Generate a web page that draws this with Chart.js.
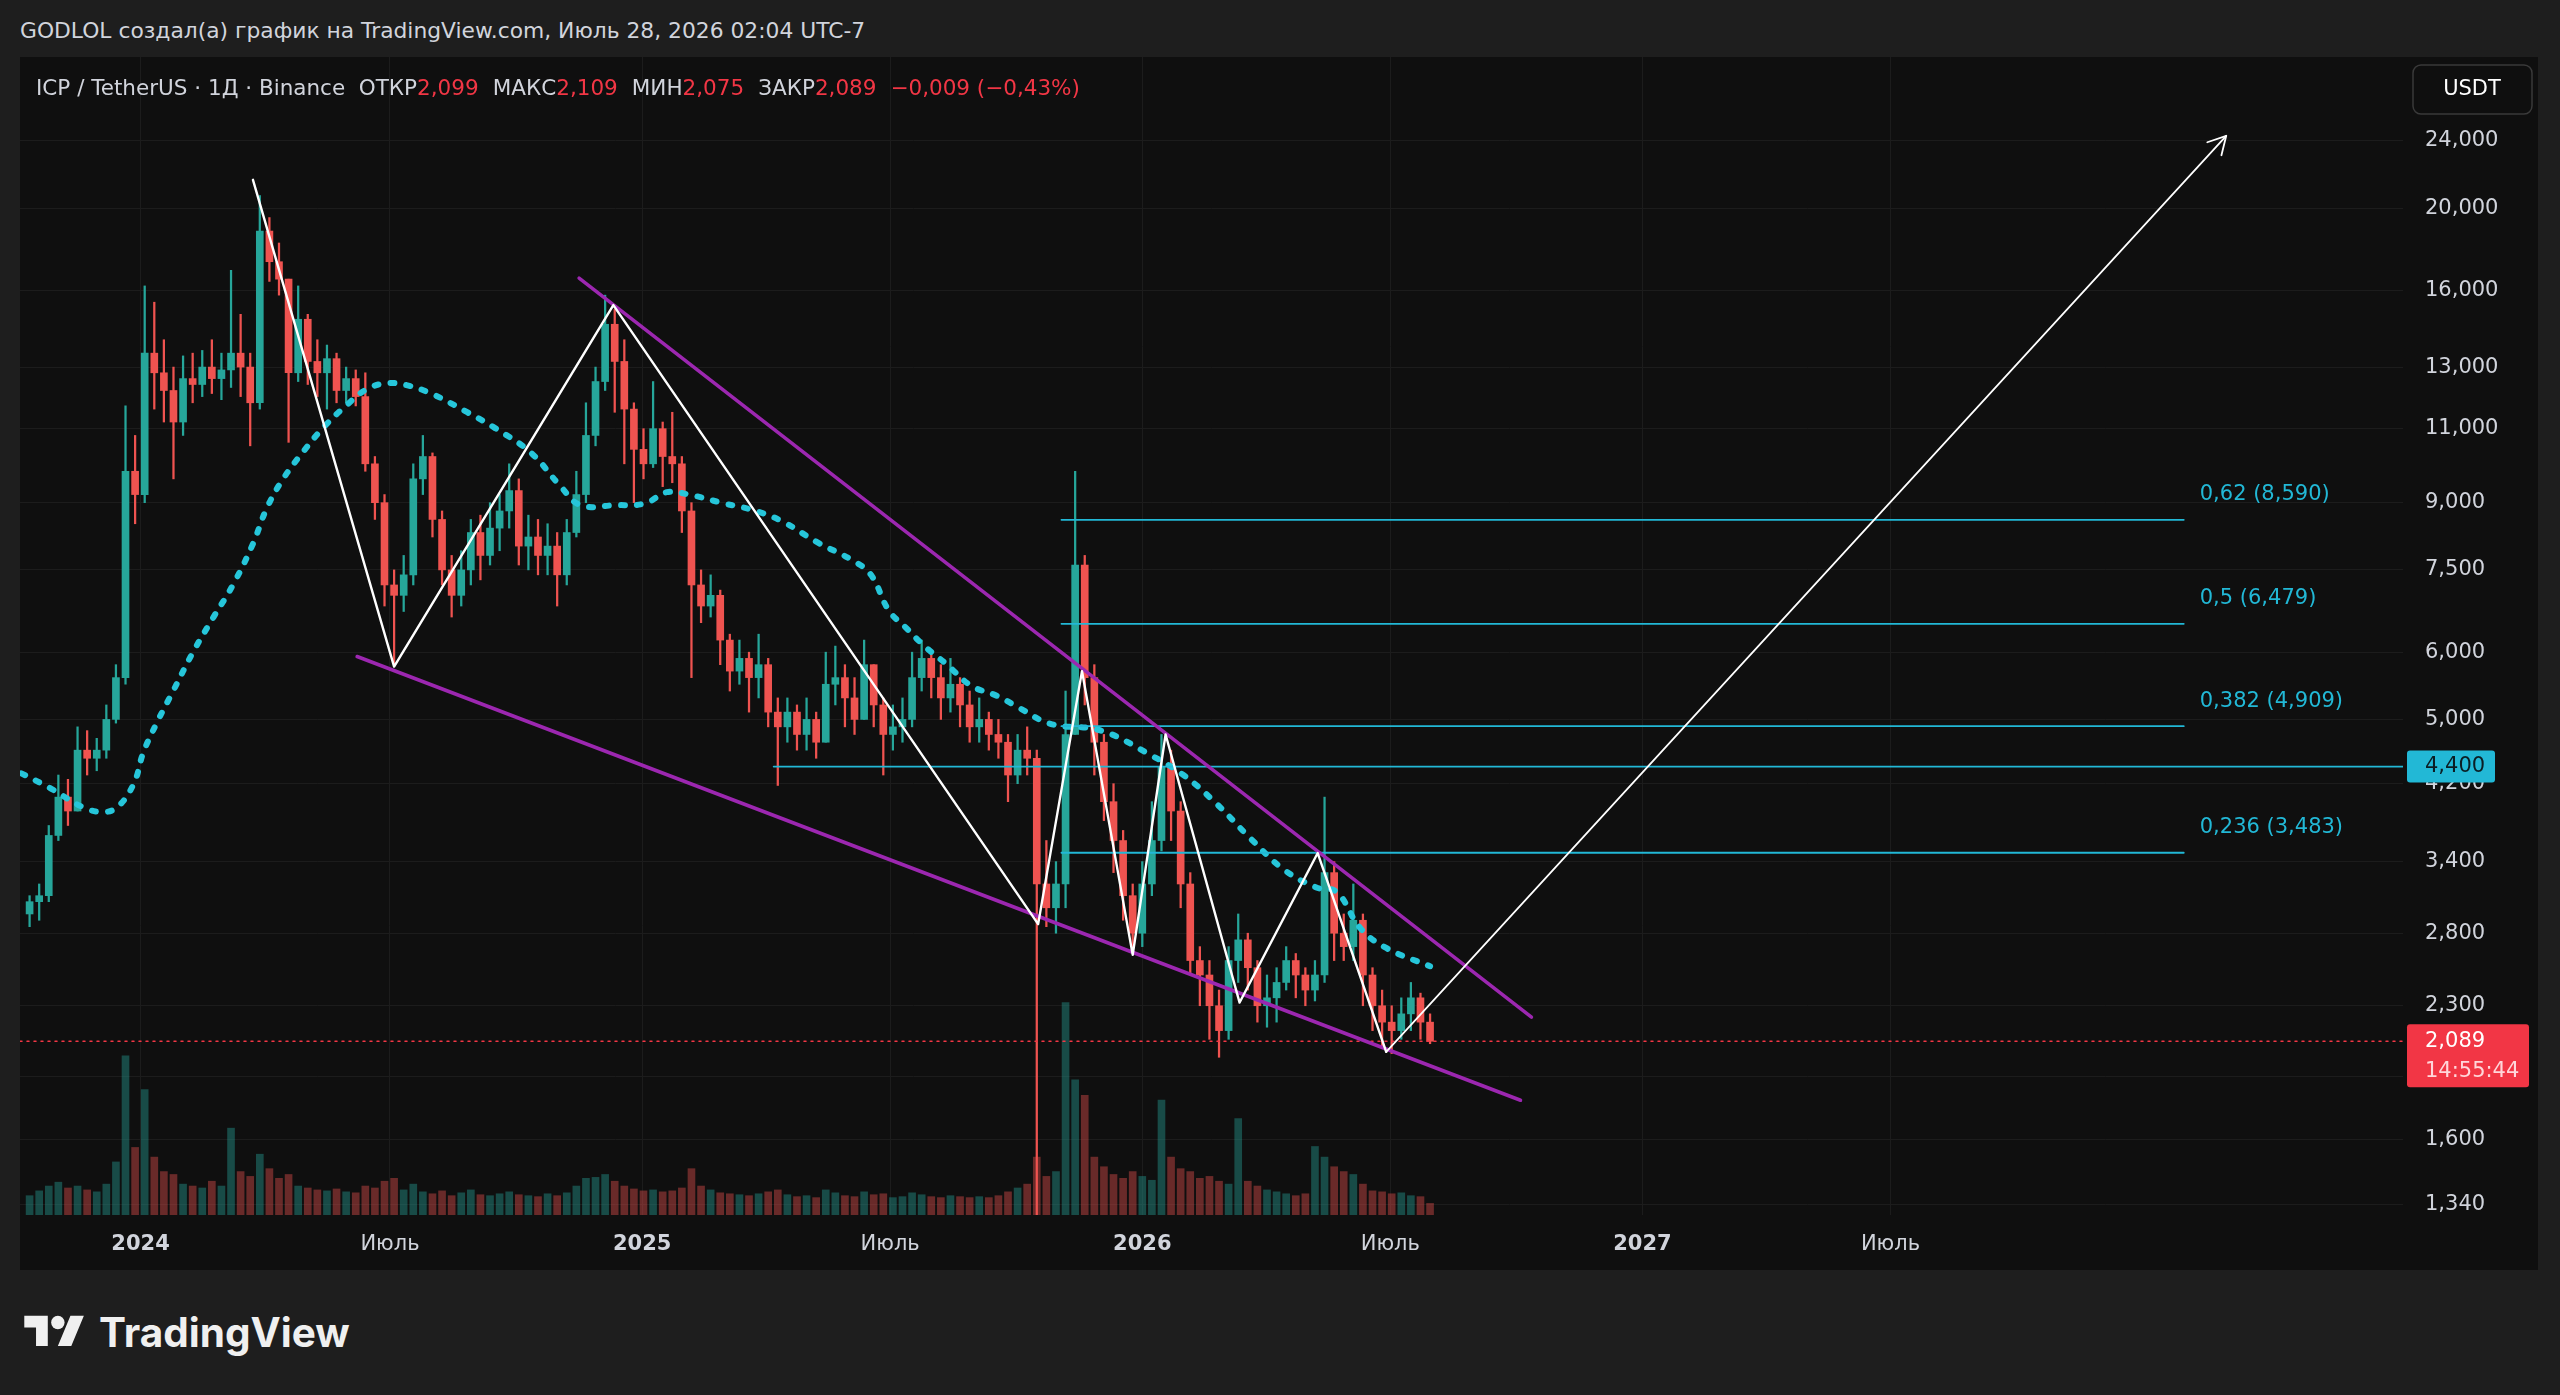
<!DOCTYPE html>
<html lang="ru">
<head>
<meta charset="utf-8">
<title>ICP / TetherUS · 1Д · Binance</title>
<script src="https://cdn.jsdelivr.net/npm/chart.js"></script>
<style>
  html, body { margin: 0; padding: 0; }
  body { width: 2560px; height: 1395px; background: #1e1e1e; position: relative; overflow: hidden;
         font-family: "DejaVu Sans", sans-serif; color: #d1d4dc; }
  #title { position: absolute; left: 20px; top: 19px; font-size: 21.8px; line-height: 24px; white-space: nowrap; }
  #frame { position: absolute; left: 20px; top: 57px; width: 2518px; height: 1213px; background: #0f0f0f; }
  #legend { position: absolute; left: 36px; top: 75px; font-size: 21.5px; line-height: 26px; white-space: nowrap; }
  #legend .v { color: #f23645; margin-right: 14px; }
  #logo { position: absolute; left: 24px; top: 1308px; display: flex; align-items: center; }
  #logo span { font-family: Inter, sans-serif; font-weight: 700; font-size: 40.5px; color: #f0f0f0; margin-left: 14px; }
</style>
</head>
<body>
<div id="title">GODLOL создал(а) график на TradingView.com, Июль 28, 2026 02:04 UTC-7</div>
<div id="frame"><canvas id="chartCanvas" width="2518" height="1213"></canvas></div>
<div id="legend">ICP / TetherUS · 1Д · Binance&nbsp; ОТКР<span class="v">2,099</span>МАКС<span class="v">2,109</span>МИН<span class="v">2,075</span>ЗАКР<span class="v">2,089</span><span class="v">−0,009 (−0,43%)</span></div>
<div id="logo">
  <svg width="61" height="47" viewBox="0 0 36 28"><path fill="#f0f0f0" d="M14 22H7V11H0V4h14v18zM28 22h-8l7.5-18h8L28 22z"/><circle fill="#f0f0f0" cx="20" cy="8" r="4"/></svg>
  <span>TradingView</span>
</div>
<script>
// weekly candles, first week starts 2023-10-09
var firstWeek = '2023-10-09';
var firstOpen = 2.95;
var closes = [3.05, 3.10, 3.65, 4.05, 3.90, 4.60, 4.50, 4.60, 5.00, 5.60,
  9.80, 9.20, 13.5, 12.8, 12.2, 11.2, 12.6, 12.4, 13.0, 12.6,
  12.9, 13.5, 13.0, 11.8, 18.8, 17.3, 16.5, 12.8, 14.8, 13.2,
  12.8, 13.3, 12.2, 12.6, 12.0, 10.0, 9.0, 7.2, 7.0, 7.4,
  9.6, 10.2, 8.6, 7.5, 7.0, 7.5, 8.3, 7.8, 8.4, 8.8,
  9.3, 8.0, 8.2, 7.8, 8.0, 7.4, 8.3, 9.2, 10.8, 12.5,
  14.6, 13.2, 11.6, 10.4, 10.0, 11.0, 10.2, 10.0, 8.8, 7.2,
  6.8, 7.0, 6.2, 5.7, 5.9, 5.6, 5.8, 5.1, 4.9, 5.1,
  4.8, 5.0, 4.7, 5.5, 5.6, 5.3, 5.0, 5.8, 5.2, 4.8,
  4.9, 5.0, 5.6, 5.9, 5.6, 5.3, 5.5, 5.2, 4.9, 5.0,
  4.8, 4.7, 4.3, 4.6, 4.5, 3.2, 3.0, 3.2, 4.8, 7.6,
  5.6, 4.7, 4.0, 3.6, 3.1, 2.8, 3.2, 3.6, 4.4, 3.9,
  3.2, 2.6, 2.5, 2.3, 2.15, 2.6, 2.75, 2.55, 2.3, 2.35,
  2.45, 2.6, 2.5, 2.4, 2.5, 3.3, 2.8, 2.7, 2.9, 2.5,
  2.3, 2.2, 2.15, 2.25, 2.35, 2.2, 2.089];
var highs = [3.10, 3.20, 3.75, 4.30, 4.25, 4.90, 4.85, 4.75, 5.20, 5.80,
  11.7, 10.8, 16.2, 15.5, 14.0, 13.0, 13.4, 13.5, 13.6, 14.0,
  13.5, 16.9, 15.0, 13.5, 20.7, 19.5, 18.2, 16.5, 16.2, 15.0,
  14.0, 13.8, 13.5, 13.0, 12.9, 12.8, 10.2, 9.2, 7.5, 7.8,
  10.0, 10.8, 10.3, 8.8, 7.8, 7.9, 8.6, 8.7, 9.0, 9.2,
  10.0, 9.6, 8.7, 8.6, 8.5, 8.3, 8.6, 9.8, 11.8, 13.0,
  15.8, 15.2, 14.0, 11.8, 11.0, 12.5, 11.2, 11.5, 10.2, 9.0,
  7.5, 7.4, 7.1, 6.3, 6.2, 6.0, 6.3, 5.9, 5.3, 5.3,
  5.2, 5.3, 5.1, 6.0, 6.1, 5.8, 5.6, 6.2, 5.8, 5.3,
  5.2, 5.3, 6.0, 6.2, 6.0, 5.8, 5.9, 5.6, 5.4, 5.3,
  5.1, 5.0, 4.8, 4.8, 4.9, 4.6, 3.6, 3.4, 5.4, 9.8,
  7.8, 5.8, 4.8, 4.2, 3.7, 3.2, 3.4, 4.0, 4.8, 4.6,
  4.0, 3.3, 2.7, 2.6, 2.4, 2.7, 2.95, 2.8, 2.6, 2.5,
  2.55, 2.7, 2.65, 2.55, 2.6, 4.05, 3.4, 2.95, 3.2, 2.95,
  2.55, 2.4, 2.3, 2.35, 2.45, 2.38, 2.25];
var lows = [2.85, 2.90, 3.05, 3.60, 3.75, 3.90, 4.30, 4.35, 4.50, 4.95,
  5.50, 8.50, 9.00, 11.6, 11.2, 9.60, 10.8, 11.8, 12.0, 12.1,
  11.9, 12.3, 12.0, 10.5, 11.6, 16.4, 15.8, 10.6, 12.5, 12.4,
  12.0, 11.6, 11.8, 11.8, 11.7, 9.8, 8.6, 6.8, 5.8, 6.7,
  7.2, 9.2, 8.2, 7.2, 6.6, 6.8, 7.2, 7.3, 7.6, 7.9,
  8.4, 7.6, 7.5, 7.4, 7.4, 6.8, 7.2, 8.2, 9.0, 10.5,
  12.2, 11.5, 10.0, 9.0, 9.6, 9.9, 9.4, 9.5, 8.3, 5.6,
  6.5, 6.6, 5.8, 5.4, 5.5, 5.1, 5.3, 4.9, 4.18, 4.7,
  4.6, 4.6, 4.5, 4.7, 5.2, 4.9, 4.8, 5.0, 4.9, 4.3,
  4.6, 4.7, 4.9, 5.4, 5.3, 5.0, 5.1, 4.9, 4.7, 4.7,
  4.6, 4.5, 4.0, 4.2, 4.3, 1.0, 2.85, 2.8, 3.0, 4.8,
  5.2, 4.3, 3.8, 3.3, 2.9, 2.66, 2.7, 3.1, 3.5, 3.6,
  3.0, 2.5, 2.3, 2.1, 2.0, 2.1, 2.45, 2.4, 2.2, 2.17,
  2.2, 2.4, 2.35, 2.3, 2.33, 2.45, 2.6, 2.6, 2.6, 2.3,
  2.15, 2.05, 2.02, 2.1, 2.15, 2.1, 2.075];
// weekly volume, millions ICP
var volumes = [2.0, 2.5, 3.0, 3.4, 2.8, 3.0, 2.6, 2.4, 3.2, 5.5,
  16.5, 7.0, 13.0, 6.0, 4.5, 4.2, 3.2, 3.0, 2.8, 3.5,
  3.0, 9.0, 4.5, 4.0, 6.3, 4.8, 3.8, 4.2, 3.0, 2.8,
  2.6, 2.5, 2.7, 2.4, 2.3, 3.0, 2.8, 3.5, 3.8, 2.6,
  3.2, 2.4, 2.2, 2.5, 2.0, 2.3, 2.6, 2.1, 2.0, 2.2,
  2.4, 2.1, 2.0, 1.9, 2.2, 2.0, 2.3, 3.0, 3.8, 3.9,
  4.2, 3.5, 3.0, 2.7, 2.5, 2.6, 2.4, 2.5, 2.8, 4.8,
  3.0, 2.6, 2.3, 2.2, 2.1, 2.0, 2.2, 2.4, 2.6, 2.1,
  1.9, 2.0, 1.8, 2.6, 2.3, 2.0, 1.9, 2.4, 2.1, 2.2,
  1.8, 1.9, 2.3, 2.1, 1.9, 1.8, 2.0, 1.9, 1.8, 1.9,
  1.8, 2.0, 2.4, 2.8, 3.2, 6.0, 4.0, 4.5, 22.0, 14.0,
  12.4, 6.0, 5.0, 4.2, 3.8, 4.5, 4.0, 3.6, 11.9, 6.0,
  4.8, 4.5, 3.8, 4.0, 3.5, 3.2, 10.0, 3.5, 3.0, 2.6,
  2.4, 2.2, 2.0, 2.2, 7.1, 6.0, 5.0, 4.5, 4.2, 3.2,
  2.5, 2.4, 2.2, 2.3, 2.0, 1.9, 1.2];

// dotted moving average: [date, value]
var maPoints = [['2023-10-06', 4.32], ['2023-10-27', 4.15], ['2023-11-20', 3.94], ['2023-12-04', 3.89],
  ['2023-12-15', 3.94], ['2023-12-27', 4.20], ['2024-01-03', 4.57], ['2024-01-13', 4.96],
  ['2024-01-25', 5.41], ['2024-02-08', 5.99], ['2024-02-23', 6.59], ['2024-03-09', 7.23],
  ['2024-03-23', 8.05], ['2024-04-02', 8.86], ['2024-04-14', 9.60], ['2024-04-29', 10.35],
  ['2024-05-14', 11.06], ['2024-05-31', 11.75], ['2024-06-14', 12.24], ['2024-06-28', 12.44],
  ['2024-07-13', 12.38], ['2024-08-01', 12.08], ['2024-08-26', 11.51], ['2024-09-16', 11.01],
  ['2024-10-12', 10.30], ['2024-11-02', 9.43], ['2024-11-17', 8.94], ['2024-12-13', 8.94],
  ['2025-01-03', 8.98], ['2025-01-19', 9.26], ['2025-02-04', 9.20], ['2025-03-02', 8.98],
  ['2025-03-23', 8.82], ['2025-04-13', 8.56], ['2025-05-09', 8.08], ['2025-06-04', 7.69],
  ['2025-06-17', 7.40], ['2025-06-30', 6.72], ['2025-07-13', 6.40], ['2025-07-26', 6.10],
  ['2025-08-11', 5.81], ['2025-08-29', 5.48], ['2025-09-17', 5.33], ['2025-10-04', 5.15],
  ['2025-10-26', 4.94], ['2025-12-02', 4.85], ['2026-01-07', 4.54], ['2026-01-31', 4.30],
  ['2026-02-24', 3.98], ['2026-03-21', 3.62], ['2026-04-14', 3.33], ['2026-05-08', 3.17],
  ['2026-05-23', 3.13], ['2026-06-09', 2.84], ['2026-06-28', 2.69], ['2026-07-30', 2.56]];

// price scale and time axis labels
var priceMin = 1.304, priceMax = 30.14;
var priceTicks = [24, 20, 16, 13, 11, 9, 7.5, 6, 5, 4.2, 3.4, 2.8, 2.3, 1.9, 1.6, 1.34];
var timeTickDates = ['2024-01-01', '2024-07-01', '2025-01-01', '2025-07-01', '2026-01-01', '2026-07-01', '2027-01-01', '2027-07-01'];
var timeTickLabels = ['2024', 'Июль', '2025', 'Июль', '2026', 'Июль', '2027', 'Июль'];

// drawings: [date, price]
var upperLine = [['2024-11-16', 16.55], ['2026-10-12', 2.23]];
var lowerLine = [['2024-06-07', 5.93], ['2026-10-04', 1.78]];
var zigzag = [['2024-03-23', 21.6], ['2024-07-04', 5.77], ['2024-12-11', 15.38], ['2025-10-17', 2.87],
  ['2025-11-18', 5.70], ['2025-12-25', 2.64], ['2026-01-18', 4.80], ['2026-03-13', 2.32],
  ['2026-05-09', 3.48], ['2026-06-28', 2.03]];
var arrowEnd = ['2028-03-02', 24.34];
var fibLabels = ['0,62', '0,5', '0,382', '0,236'];
var fibPrices = [8.59, 6.479, 4.909, 3.483];
var fibRange = ['2025-11-03', '2028-01-31'];
var levelPrice = 4.4, levelStart = '2025-04-07';
var lastPrice = 2.089, timeLeft = '14:55:44';

function dayOf(s) {
  var p = s.split('-');
  return (Date.UTC(+p[0], +p[1] - 1, +p[2]) - Date.UTC(2024, 0, 1)) / 86400000;
}
function fmt(v) { return v.toFixed(3).replace('.', ','); }

var UP = '#26a69a', DOWN = '#ef5350', CYAN = '#22b8d6';
var wicks = [], bodies = [], vols = [], candleColors = [], volColors = [];
var start = dayOf(firstWeek) + 3;
for (var i = 0; i < closes.length; i++) {
  var o = i === 0 ? firstOpen : closes[i - 1];
  var c = closes[i];
  var d = start + 7 * i;
  wicks.push({ x: d, y: [lows[i], highs[i]] });
  bodies.push({ x: d, y: [Math.min(o, c), Math.max(o, c)] });
  vols.push({ x: d, y: volumes[i] });
  candleColors.push(c >= o ? UP : DOWN);
  volColors.push(c >= o ? 'rgba(38,166,154,0.4)' : 'rgba(239,83,80,0.4)');
}
var maData = maPoints.map(function (p) { return { x: dayOf(p[0]), y: p[1] }; });

var drawings = {
  id: 'drawings',
  afterDatasetsDraw: function (chart) {
    var ctx = chart.ctx, a = chart.chartArea, sx = chart.scales.x, sy = chart.scales.y;
    function P(pt) { return [sx.getPixelForValue(dayOf(pt[0])), sy.getPixelForValue(pt[1])]; }
    function poly(pts, color, w) {
      ctx.strokeStyle = color; ctx.lineWidth = w; ctx.setLineDash([]);
      ctx.beginPath();
      pts.forEach(function (p, k) { var q = P(p); if (k) ctx.lineTo(q[0], q[1]); else ctx.moveTo(q[0], q[1]); });
      ctx.stroke();
    }
    ctx.save();
    ctx.beginPath(); ctx.rect(a.left, a.top, a.right - a.left, a.bottom - a.top); ctx.clip();
    ctx.lineCap = 'round'; ctx.lineJoin = 'round';

    // last price dotted line
    var yl = sy.getPixelForValue(lastPrice);
    ctx.strokeStyle = '#f23645'; ctx.lineWidth = 1.5; ctx.setLineDash([2, 5]);
    ctx.beginPath(); ctx.moveTo(a.left, yl); ctx.lineTo(a.right, yl); ctx.stroke();

    // fib levels
    var fx0 = sx.getPixelForValue(dayOf(fibRange[0])), fx1 = sx.getPixelForValue(dayOf(fibRange[1]));
    ctx.font = '21px "DejaVu Sans"'; ctx.fillStyle = CYAN; ctx.textBaseline = 'middle'; ctx.textAlign = 'left';
    fibPrices.forEach(function (p, k) {
      var y = sy.getPixelForValue(p);
      ctx.strokeStyle = CYAN; ctx.lineWidth = 1.8; ctx.setLineDash([]);
      ctx.beginPath(); ctx.moveTo(fx0, y); ctx.lineTo(fx1, y); ctx.stroke();
      ctx.fillText(fibLabels[k] + ' (' + fmt(p) + ')', fx1 + 16, y - 25);
    });
    var ly = sy.getPixelForValue(levelPrice);
    ctx.beginPath(); ctx.moveTo(sx.getPixelForValue(dayOf(levelStart)), ly); ctx.lineTo(a.right, ly); ctx.stroke();

    // wedge
    poly(upperLine, '#9c27b0', 3.5);
    poly(lowerLine, '#9c27b0', 3.5);
    // zigzag and projection arrow
    poly(zigzag, '#ffffff', 2.4);
    var from = P(zigzag[zigzag.length - 1]), to = P(arrowEnd);
    poly([zigzag[zigzag.length - 1], arrowEnd], '#ffffff', 1.8);
    var ang = Math.atan2(to[1] - from[1], to[0] - from[0]);
    ctx.beginPath();
    ctx.moveTo(to[0] - 20 * Math.cos(ang - 0.5), to[1] - 20 * Math.sin(ang - 0.5));
    ctx.lineTo(to[0], to[1]);
    ctx.lineTo(to[0] - 20 * Math.cos(ang + 0.5), to[1] - 20 * Math.sin(ang + 0.5));
    ctx.stroke();
    ctx.restore();
  },
  afterDraw: function (chart) {
    var ctx = chart.ctx, a = chart.chartArea, sy = chart.scales.y;
    function box(x, y, w, h, r, fill, stroke) {
      ctx.beginPath();
      ctx.roundRect(x, y, w, h, r);
      if (fill) { ctx.fillStyle = fill; ctx.fill(); }
      if (stroke) { ctx.strokeStyle = stroke; ctx.lineWidth = 1.5; ctx.stroke(); }
    }
    ctx.save();
    ctx.font = '21px "DejaVu Sans"'; ctx.textBaseline = 'middle'; ctx.textAlign = 'left';
    var ly = sy.getPixelForValue(levelPrice);
    box(a.right + 4, ly - 16, 88, 32, 3, CYAN);
    ctx.fillStyle = '#0b1e24'; ctx.fillText(fmt(levelPrice), a.right + 22, ly);
    var py = sy.getPixelForValue(lastPrice);
    box(a.right + 4, py - 17, 122, 63, 3, '#f23645');
    ctx.fillStyle = '#ffffff'; ctx.fillText(fmt(lastPrice), a.right + 22, py);
    ctx.fillStyle = '#ffd6da'; ctx.fillText(timeLeft, a.right + 22, py + 30);
    box(a.right + 10, 8, 119, 49, 8, '#0f0f0f', '#3a3a3a');
    ctx.fillStyle = '#ffffff'; ctx.textAlign = 'center'; ctx.fillText('USDT', a.right + 69, 33);
    ctx.restore();
  }
};

var ctx = document.getElementById('chartCanvas').getContext('2d');
var chart = new Chart(ctx, {
  type: 'bar',
  data: {
    datasets: [
      { type: 'line', data: maData, yAxisID: 'y', borderColor: '#26c6da', borderWidth: 6,
        borderDash: [4, 12], borderCapStyle: 'round', pointRadius: 0, tension: 0.4, order: 1 },
      { data: bodies, yAxisID: 'y', backgroundColor: candleColors, barThickness: 7, grouped: false, order: 2 },
      { data: wicks, yAxisID: 'y', backgroundColor: candleColors, barThickness: 1.6, grouped: false, order: 3 },
      { data: vols, yAxisID: 'yv', backgroundColor: volColors, barThickness: 7, grouped: false, order: 4 }
    ]
  },
  options: {
    responsive: false,
    animation: false,
    devicePixelRatio: 1,
    layout: { padding: 0 },
    plugins: { legend: { display: false }, tooltip: { enabled: false } },
    scales: {
      x: {
        type: 'linear', min: -88, max: 1651, offset: false,
        grid: { color: '#1c1c1c', drawTicks: false, offset: false },
        border: { display: false },
        afterBuildTicks: function (s) { s.ticks = timeTickDates.map(function (t) { return { value: dayOf(t) }; }); },
        afterFit: function (s) { s.height = 55; s.paddingLeft = 0; s.paddingRight = 0; },
        ticks: {
          autoSkip: false, maxRotation: 0, padding: 17, color: '#d1d4dc',
          callback: function (v, i) { return timeTickLabels[i]; },
          font: function (c) {
            var lbl = timeTickLabels[c.index] || '';
            return { family: 'DejaVu Sans', size: 21, weight: /^\d+$/.test(lbl) ? 'bold' : 'normal' };
          }
        }
      },
      y: {
        type: 'logarithmic', position: 'right', min: priceMin, max: priceMax,
        grid: { color: '#1c1c1c', drawTicks: false },
        border: { display: false },
        afterBuildTicks: function (s) {
          s.ticks = priceTicks.map(function (v) { return { value: v }; });
          s.min = priceMin; s.max = priceMax;
        },
        afterFit: function (s) { s.width = 135; s.paddingTop = 0; s.paddingBottom = 0; },
        ticks: { padding: 22, color: '#d1d4dc', font: { family: 'DejaVu Sans', size: 21 },
          callback: function (v) { return fmt(v); } }
      },
      yv: { type: 'linear', display: false, min: 0, max: 120 }
    }
  },
  plugins: [drawings]
});
</script>
</body>
</html>
